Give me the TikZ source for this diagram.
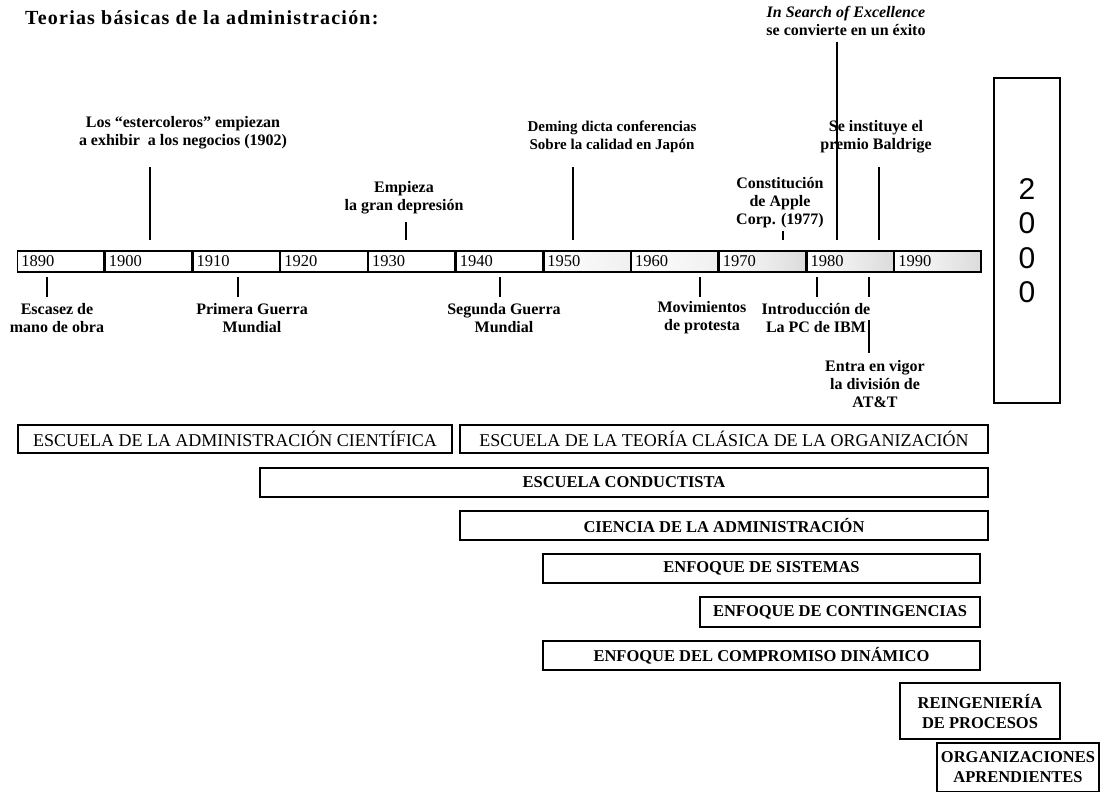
\documentclass[tikz,border=0pt]{standalone}
\usepackage{fontspec}
\setmainfont{Liberation Serif}
\newfontfamily\arialfont{Liberation Sans}
\usetikzlibrary{positioning}

\begin{document}
\begin{tikzpicture}[x=1pt, y=-1pt,
    yr/.style={draw, line width=1.3pt, text width=79.2pt, inner xsep=3.6pt, inner ysep=0pt, minimum height=21pt, align=left, font=\fontsize{16.5}{16.5}\selectfont},
    yrlight/.style={yr, left color=white, right color=black!6},
    yrdark/.style={yr, left color=white, right color=black!14},
    evt/.style={align=center, inner sep=0pt, font=\fontsize{16}{18}\selectfont\bfseries},
    tick/.style={line width=1.2pt},
    box/.style={draw, line width=1.5pt, inner sep=0pt, minimum height=28pt, font=\fontsize{18}{20}\selectfont},
    boxb/.style={box, minimum height=29pt, font=\fontsize{16.5}{20}\selectfont\bfseries}]
    \useasboundingbox (0,0) rectangle (1109,792);

    % Titulo
    \node[anchor=west, inner sep=0pt, font=\fontsize{20}{22}\selectfont\bfseries\addfontfeature{LetterSpace=6}] (titulo) at (25,18) {Teorias básicas de la administración:};

    % Linea de tiempo
    \node[yr, anchor=west] (y1890) at (17,261.5) {1890};
    \node[yr] (y1900) [right=0pt of y1890] {1900};
    \node[yr] (y1910) [right=0pt of y1900] {1910};
    \node[yr] (y1920) [right=0pt of y1910] {1920};
    \node[yr] (y1930) [right=0pt of y1920] {1930};
    \node[yr] (y1940) [right=0pt of y1930] {1940};
    \node[yrlight] (y1950) [right=0pt of y1940] {1950};
    \node[yrlight] (y1960) [right=0pt of y1950] {1960};
    \node[yrdark] (y1970) [right=0pt of y1960] {1970};
    \node[yrdark] (y1980) [right=0pt of y1970] {1980};
    \node[yrdark] (y1990) [right=0pt of y1980] {1990};

    \node[draw, line width=1.5pt, minimum width=66pt, minimum height=325pt, align=center, font=\fontsize{30}{34.5}\arialfont] (y2000) at (1027,240.5) {2\\0\\0\\0};

    % Sucesos arriba
    \node[evt] (est) at (183,133) {Los “estercoleros” empiezan\\a exhibir\ \ a los negocios (1902)};
    \node[evt] (dep) at (404,198) {Empieza\\la gran depresión};
    \node[evt, font=\fontsize{15}{18}\selectfont\bfseries] (dem) at (612,136.5) {Deming dicta conferencias\\Sobre la calidad en Japón};
    \node[evt] (app) at (780,203) {Constitución\\de Apple\\Corp. (1977)};
    \node[evt] (exc) at (846,21) {\textit{In Search of Excellence}\\se convierte en un éxito};
    \node[evt] (bal) at (876,136.5) {Se instituye el\\premio Baldrige};

    \coordinate (est-a) at (150,167); \coordinate (est-b) at (150,240);
    \coordinate (dep-a) at (406,222); \coordinate (dep-b) at (406,240);
    \coordinate (dem-a) at (573,167); \coordinate (dem-b) at (573,240);
    \coordinate (app-a) at (783,231); \coordinate (app-b) at (783,240);
    \coordinate (exc-a) at (837,42);  \coordinate (exc-b) at (837,240);
    \coordinate (bal-a) at (879,167); \coordinate (bal-b) at (879,240);
    \draw[tick] (est-a) -- (est-b);
    \draw[tick] (dep-a) -- (dep-b);
    \draw[tick] (dem-a) -- (dem-b);
    \draw[tick] (app-a) -- (app-b);
    \draw[tick] (exc-a) -- (exc-b);
    \draw[tick] (bal-a) -- (bal-b);

    % Sucesos abajo
    \node[evt] (esc) at (57,318) {Escasez de\\mano de obra};
    \node[evt] (pri) at (252,318) {Primera Guerra\\Mundial};
    \node[evt] (seg) at (504,318) {Segunda Guerra\\Mundial};
    \node[evt] (mov) at (702,318) {Movimientos\\de protesta};
    \node[evt] (ibm) at (816,318) {Introducción de\\La PC de IBM};
    \node[evt] (att) at (875,384) {Entra en vigor\\la división de\\AT\&T};

    \coordinate (esc-a) at (47,277);  \coordinate (esc-b) at (47,297);
    \coordinate (pri-a) at (238,277); \coordinate (pri-b) at (238,297);
    \coordinate (seg-a) at (500,277); \coordinate (seg-b) at (500,297);
    \coordinate (mov-a) at (700,277); \coordinate (mov-b) at (700,297);
    \coordinate (ibm-a) at (817,277); \coordinate (ibm-b) at (817,297);
    \coordinate (att-a) at (869,277); \coordinate (att-b) at (869,297);
    \coordinate (att-c) at (869,320); \coordinate (att-d) at (869,353);
    \draw[tick] (esc-a) -- (esc-b);
    \draw[tick] (pri-a) -- (pri-b);
    \draw[tick] (seg-a) -- (seg-b);
    \draw[tick] (mov-a) -- (mov-b);
    \draw[tick] (ibm-a) -- (ibm-b);
    \draw[tick] (att-a) -- (att-b);
    \draw[tick] (att-c) -- (att-d);

    % Escuelas
    \node[box, minimum width=434pt] (cient) at (235,439) {ESCUELA DE LA ADMINISTRACIÓN CIENTÍFICA};
    \node[box, minimum width=528pt] (clas) at (724,439) {ESCUELA DE LA TEORÍA CLÁSICA DE LA ORGANIZACIÓN};
    \node[boxb, minimum width=728pt] (cond) at (624,482.5) {ESCUELA CONDUCTISTA};
    \node[boxb, minimum width=528pt] (cien) at (724,525.5) {CIENCIA DE LA ADMINISTRACIÓN};
    \node[boxb, minimum width=437pt] (sist) at (761.5,568.5) {ENFOQUE DE SISTEMAS};
    \node[boxb, minimum width=280pt, minimum height=30pt] (cont) at (840,612) {ENFOQUE DE CONTINGENCIAS};
    \node[boxb, minimum width=437pt] (dina) at (761.5,655.5) {ENFOQUE DEL COMPROMISO DINÁMICO};
    \node[boxb, minimum width=160pt, minimum height=56pt, align=center] (reing) at (980,711) {REINGENIERÍA\\DE PROCESOS};
    \node[boxb, minimum width=162pt, minimum height=49pt, align=center] (org) at (1018,767.5) {ORGANIZACIONES\\APRENDIENTES};
\end{tikzpicture}
\end{document}
